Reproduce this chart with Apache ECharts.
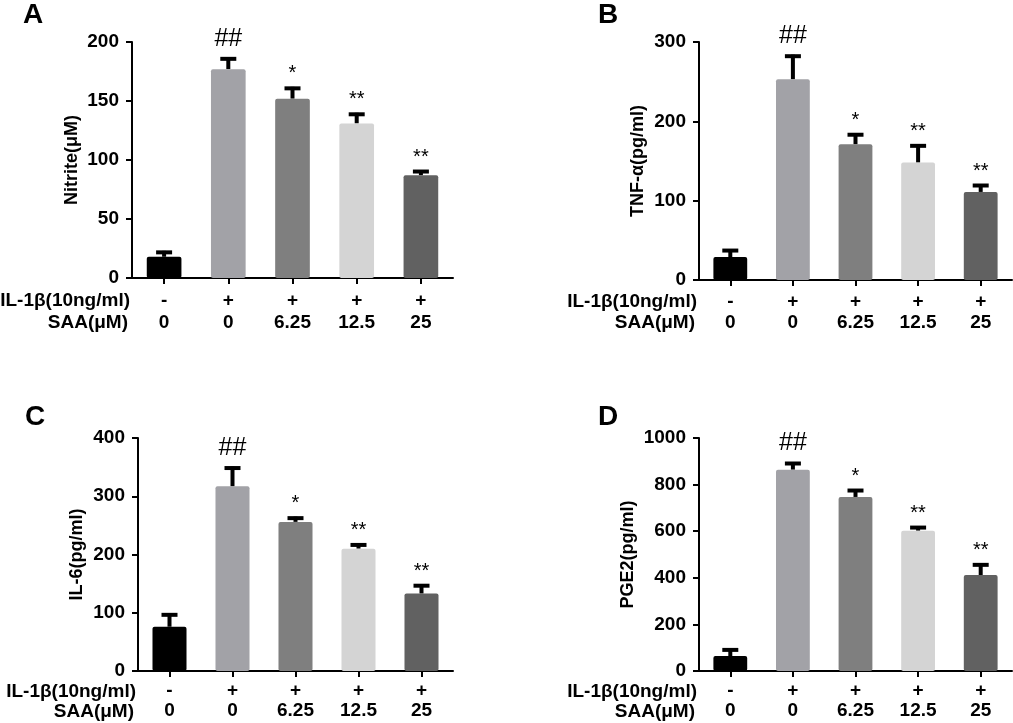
<!DOCTYPE html>
<html>
<head>
<meta charset="utf-8">
<script src="https://cdn.jsdelivr.net/npm/echarts@6/dist/echarts.min.js"></script>
<style>
html,body{margin:0;padding:0;background:#fff;}
#chart{width:1013px;height:723px;}
</style>
</head>
<body>
<div id="chart"></div>
<script>
// ---- data ----
const ilLabels = ['-', '+', '+', '+', '+'];
const saaLabels = ['0', '0', '6.25', '12.5', '25'];
const marks = ['', '##', '*', '**', '**'];

const nitriteMean = [18, 177, 152, 131, 87];
const nitriteErr  = [5, 10, 10, 9, 4.5];
const tnfMean = [29, 253, 171, 148, 111];
const tnfErr  = [10, 31, 14, 23, 10];
const il6Mean = [76, 317, 256, 210, 133];
const il6Err  = [23, 34, 9, 9, 16];
const pge2Mean = [64, 864, 747, 602, 412];
const pge2Err  = [33, 33, 34, 20, 50];

const barColors = ['#000000', '#a2a2a7', '#7f7f7f', '#d4d4d4', '#616161'];
const FONT = 'Liberation Sans, Arial, sans-serif';

const panels = [
  {letter:'A', name:'Nitrite(μM)', mean:nitriteMean, err:nitriteErr, max:200, interval:50,
   grid:{left:132, top:42, width:321, height:236}, nameGap:51, rowY:[301, 323], letterPos:[33,15], lm:12, lh:22},
  {letter:'B', name:'TNF-α(pg/ml)', mean:tnfMean, err:tnfErr, max:300, interval:100,
   grid:{left:699, top:42, width:313, height:238}, nameGap:52, rowY:[302, 323], letterPos:[608,15], lm:11, lh:21},
  {letter:'C', name:'IL-6(pg/ml)', mean:il6Mean, err:il6Err, max:400, interval:100,
   grid:{left:138, top:438, width:315, height:233}, nameGap:52, rowY:[692, 712], letterPos:[35,417], lm:10, lh:20},
  {letter:'D', name:'PGE2(pg/ml)', mean:pge2Mean, err:pge2Err, max:1000, interval:200,
   grid:{left:699, top:438, width:313, height:233}, nameGap:62, rowY:[692, 712], letterPos:[608,417], lm:10, lh:20}
];

const grids = [], xAxes = [], yAxes = [], series = [], graphics = [];

panels.forEach((p, i) => {
  grids.push(Object.assign({containLabel:false}, p.grid));
  xAxes.push({
    type:'category', gridIndex:i, data:saaLabels,
    axisLine:{lineStyle:{color:'#000', width:2}},
    axisTick:{show:true, alignWithLabel:true, length:6, lineStyle:{color:'#000', width:2}},
    axisLabel:{
      margin:p.lm, color:'#000', interval:0,
      formatter:(v, idx) => '{a|' + ilLabels[idx] + '}\n{b|' + v + '}',
      rich:{
        a:{fontFamily:FONT, fontWeight:'bold', fontSize:19, lineHeight:p.lh, color:'#000'},
        b:{fontFamily:FONT, fontWeight:'bold', fontSize:19, lineHeight:p.lh, color:'#000'}
      }
    }
  });
  yAxes.push({
    type:'value', gridIndex:i, min:0, max:p.max, interval:p.interval,
    name:p.name, nameLocation:'middle', nameRotate:90, nameGap:p.nameGap,
    nameTextStyle:{fontFamily:FONT, fontWeight:'bold', fontSize:18, color:'#000'},
    splitLine:{show:false},
    axisLine:{show:true, lineStyle:{color:'#000', width:2}},
    axisTick:{show:true, length:6, lineStyle:{color:'#000', width:2}},
    axisLabel:{margin:13, fontFamily:FONT, fontWeight:'bold', fontSize:19, color:'#000',
      formatter:(v) => String(v)}
  });
  series.push({
    type:'bar', xAxisIndex:i, yAxisIndex:i, barWidth:'54%',
    data:p.mean.map((v, k) => ({value:v, itemStyle:{color:barColors[k], borderRadius:2}})),
    z:3
  });
  series.push({
    type:'custom', xAxisIndex:i, yAxisIndex:i, z:2,
    data:p.mean.map((v, k) => [k, v, p.err[k]]),
    renderItem:(params, api) => {
      const k = api.value(0), m = api.value(1), e = api.value(2);
      const mk = marks[k];
      const p0 = api.coord([k, m]);
      const p1 = api.coord([k, m + e]);
      const children = [
        {type:'line', shape:{x1:p0[0], y1:p0[1], x2:p1[0], y2:p1[1]}, style:{stroke:'#000', lineWidth:4}},
        {type:'line', shape:{x1:p1[0]-8, y1:p1[1]+1.5, x2:p1[0]+8, y2:p1[1]+1.5}, style:{stroke:'#000', lineWidth:4}}
      ];
      if (mk) {
        const big = mk === '##';
        children.push({type:'text', x:p1[0], y:p1[1] - (big ? 6 : 3), z2:10,
          style:{text:mk, fill:'#000', fontFamily:FONT, fontSize: big ? 25 : 20,
                 align:'center', verticalAlign:'bottom'}});
      }
      return {type:'group', children};
    }
  });
  graphics.push({type:'text', x:p.letterPos[0], y:p.letterPos[1],
    style:{text:p.letter, fontFamily:FONT, fontWeight:'bold', fontSize:28, fill:'#000',
           align:'center', verticalAlign:'middle'}});
  graphics.push({type:'text', x:p.grid.left - 2, y:p.rowY[0],
    style:{text:'IL-1β(10ng/ml)', fontFamily:FONT, fontWeight:'bold', fontSize:19, fill:'#000',
           align:'right', verticalAlign:'middle'}});
  graphics.push({type:'text', x:p.grid.left - 4, y:p.rowY[1],
    style:{text:'SAA(μM)', fontFamily:FONT, fontWeight:'bold', fontSize:19, fill:'#000',
           align:'right', verticalAlign:'middle'}});
});

const chart = echarts.init(document.getElementById('chart'), null, {renderer:'canvas'});
chart.setOption({
  backgroundColor:'#fff',
  animation:false,
  grid:grids, xAxis:xAxes, yAxis:yAxes, series:series, graphic:graphics
});
</script>
</body>
</html>
